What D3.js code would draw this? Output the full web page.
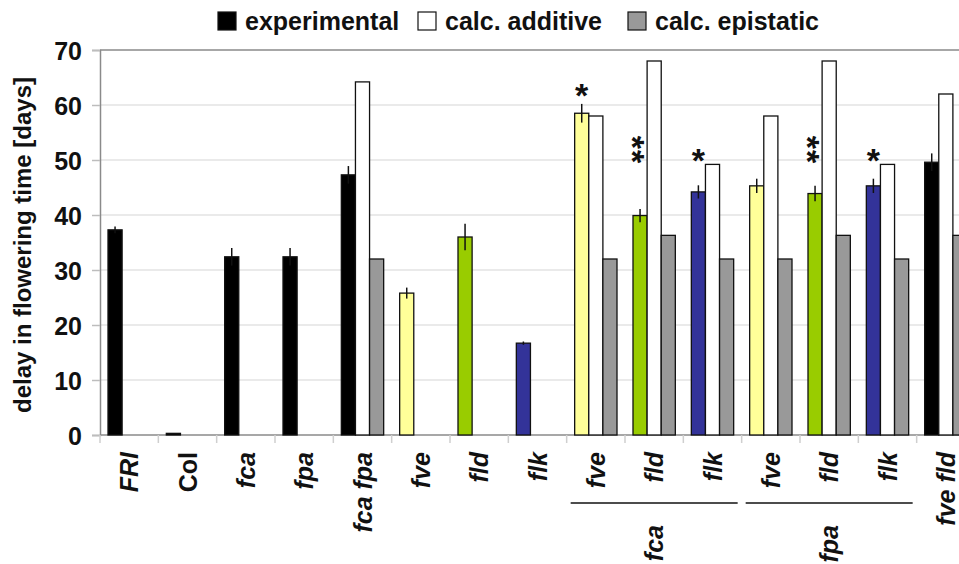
<!DOCTYPE html>
<html><head><meta charset="utf-8">
<script src="https://cdn.jsdelivr.net/npm/d3@7"></script>
<style>body{margin:0;background:#fff}svg{display:block}text{font-family:"Liberation Sans",Arial,sans-serif;font-weight:bold}</style>
</head><body><svg id="c" width="959" height="564"></svg>
<script>
const categories = ["FRI","Col","fca","fpa","fca fpa","fve","fld","flk","fve","fld","flk","fve","fld","flk","fve fld"];
const italicLabel = [true,false,true,true,true,true,true,true,true,true,true,true,true,true,true];
const experimental = [37.3,0.3,32.4,32.4,47.3,25.8,36,16.7,58.5,39.9,44.2,45.3,43.9,45.3,49.6];
const experimentalErr = [0.6,0,1.6,1.6,1.6,1,2.4,0.3,1.7,1.2,1.2,1.3,1.4,1.3,1.6];
const calcAdditive = [null,null,null,null,64.2,null,null,null,58,68,49.2,58,68,49.2,62];
const calcEpistatic = [null,null,null,null,32,null,null,null,32,36.3,32,32,36.3,32,36.3];
const stars = ["","","","","","","","","*","**","*","","**","*",""];
const starLevel = [null,null,null,null,null,null,null,null,62.7,51.8,51.0,null,51.8,51.0,null];
const groupLabels = [{label:"fca",first:8,last:10},{label:"fpa",first:11,last:13}];
const yTicks = [0,10,20,30,40,50,60,70];
const seriesNames = ["experimental","calc. additive","calc. epistatic"];

const geneColor = {fve:"#ffff99", fld:"#99cc00", flk:"#333399"};
const expColor = c => geneColor[c] || "#000";
const seriesColor = ["#000","#fff","#999999"];

const svg = d3.select("#c");
const L=100, R=975, T=50, B=435;
const x = d3.scaleBand().domain(d3.range(categories.length)).range([L,R]).padding(0);
const inner = d3.scaleBand().domain([0,1,2]).range([8, x.bandwidth()-8]).padding(0);
const y = d3.scaleLinear().domain([0,70]).range([B,T]);

// gridlines
svg.append("g").selectAll("line").data(yTicks.filter(t=>t>0&&t<70)).join("line")
  .attr("x1",L).attr("x2",R).attr("y1",d=>y(d)).attr("y2",d=>y(d))
  .attr("stroke","#e3e3e3").attr("stroke-width",1.5);
svg.append("line").attr("x1",L).attr("x2",R).attr("y1",y(70)).attr("y2",y(70)).attr("stroke","#8a8a8a").attr("stroke-width",1.5);

// y axis
const yAxis = d3.axisLeft(y).tickValues(yTicks).tickSize(8).tickPadding(10);
const gy = svg.append("g").attr("transform",`translate(${L},0)`).call(yAxis);
gy.select(".domain").attr("stroke","#8a8a8a").attr("stroke-width",1.5);
gy.selectAll(".tick line").attr("stroke","#bdbdbd").attr("stroke-width",1.5);
gy.selectAll(".tick text").attr("font-size",25).attr("fill","#111").attr("font-family","Liberation Sans, Arial").attr("font-weight","bold").attr("dy","0.36em");

// x baseline + boundary ticks
svg.append("line").attr("x1",L).attr("x2",R).attr("y1",B).attr("y2",B).attr("stroke","#8a8a8a").attr("stroke-width",1.5);
svg.append("g").selectAll("line").data(d3.range(categories.length+1)).join("line")
  .attr("x1",d=> d<categories.length? x(d): R).attr("x2",d=> d<categories.length? x(d): R)
  .attr("y1",B).attr("y2",B+8).attr("stroke","#cfcfcf").attr("stroke-width",1.5);

// bars
const gb = svg.append("g");
categories.forEach((c,i)=>{
  const vals=[experimental[i],calcAdditive[i],calcEpistatic[i]];
  vals.forEach((v,s)=>{
    if(v==null) return;
    const fill = s===0? expColor(c): seriesColor[s];
    gb.append("rect").attr("x",x(i)+inner(s)).attr("width",inner.bandwidth())
      .attr("y",y(v)).attr("height",B-y(v))
      .attr("fill",fill).attr("stroke","#111").attr("stroke-width",1.3);
  });
  const e=experimentalErr[i];
  if(e>0){
    const cx=x(i)+inner(0)+inner.bandwidth()/2;
    gb.append("line").attr("x1",cx).attr("x2",cx).attr("y1",y(experimental[i]-e)).attr("y2",y(experimental[i]+e))
      .attr("stroke","#111").attr("stroke-width",1.5);
  }
});

// stars (multi-star marks drawn as one vertical text)
categories.forEach((c,i)=>{
  if(!stars[i]) return;
  const cx=x(i)+inner(0)+inner.bandwidth()/2;
  const cy=y(starLevel[i]);
  if(stars[i].length===1){
    svg.append("text").attr("x",cx).attr("y",cy+17).attr("text-anchor","middle")
      .attr("font-size",34).attr("fill","#111").text(stars[i]);
  } else {
    svg.append("text").attr("transform",`translate(${cx},${cy}) rotate(90)`)
      .attr("text-anchor","middle").attr("dy","0.57em").attr("letter-spacing","1px")
      .attr("font-size",34).attr("fill","#111").text(stars[i]);
  }
});

// x labels
categories.forEach((c,i)=>{
  const cx=x(i)+x.bandwidth()/2;
  svg.append("text").attr("transform",`translate(${cx+9},${B+17}) rotate(-90)`)
    .attr("text-anchor","end").attr("font-size",25).attr("font-style",italicLabel[i]?"italic":"normal")
    .attr("fill","#111").text(c);
});
// group labels
groupLabels.forEach(g=>{
  const x1=x(g.first)+4, x2=x(g.last)+x.bandwidth()-4;
  svg.append("line").attr("x1",x1).attr("x2",x2).attr("y1",503).attr("y2",503).attr("stroke","#111").attr("stroke-width",1.5);
  const cx=(x1+x2)/2;
  svg.append("text").attr("transform",`translate(${cx+9},525) rotate(-90)`)
    .attr("text-anchor","end").attr("font-size",25).attr("font-style","italic").attr("fill","#111").text(g.label);
});

// y title
svg.append("text").attr("transform","translate(31,245) rotate(-90)").attr("text-anchor","middle")
  .attr("font-size",24).attr("fill","#111").text("delay in flowering time [days]");

// legend
const legX=[218,418,628];
seriesNames.forEach((n,s)=>{
  svg.append("rect").attr("x",legX[s]).attr("y",12).attr("width",18).attr("height",18)
    .attr("fill",seriesColor[s]).attr("stroke","#111").attr("stroke-width",1.2);
  svg.append("text").attr("x",legX[s]+27).attr("y",30).attr("font-size",25).attr("fill","#111").text(n);
});
</script></body></html>
